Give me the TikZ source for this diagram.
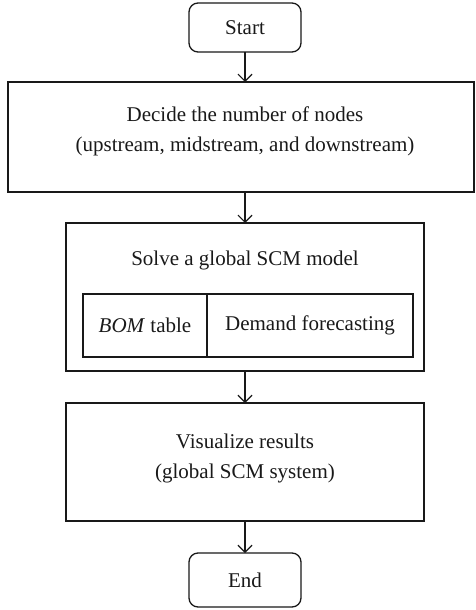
\documentclass[tikz,border=0pt]{standalone}
\usepackage{fontspec}
\setmainfont{Liberation Serif}
\usetikzlibrary{arrows.meta}
\begin{document}
\begin{tikzpicture}[x=1pt,y=-1pt,
  every node/.style={font=\fontsize{21}{30}\selectfont, inner sep=0pt, outer sep=0pt, text=black!90},
  flowbox/.style={draw=black!90, line width=1.3pt, rectangle, align=center},
  termbox/.style={flowbox, rounded corners=9pt},
  arrowline/.style={draw=black!90, line width=1.2pt, -{Straight Barb[length=7pt,width=14pt]}}
]
\useasboundingbox (0,0) rectangle (476,610);

% terminals
\node[termbox, minimum width=112pt, minimum height=49pt] (start) at (245,27.5) {Start};
\node[termbox, minimum width=112pt, minimum height=54pt] (finish) at (245,580) {End};

% step 1
\node[flowbox, minimum width=466pt, minimum height=110pt] (decide) at (241,137) {};
\node (decidetxt) at (245,131) [align=center] {Decide the number of nodes\\ (upstream, midstream, and downstream)};

% step 2 with its two sub-tasks
\node[flowbox, minimum width=358pt, minimum height=148pt] (solve) at (245,297) {};
\node (solvetxt) at (245,260) {Solve a global SCM model};
\node[flowbox, minimum width=124pt, minimum height=63pt] (bom) at (145,325.5) {\textit{BOM} table};
\node[flowbox, minimum width=206pt, minimum height=63pt] (demand) at (310,325.5) {Demand forecasting};

% step 3
\node[flowbox, minimum width=358pt, minimum height=118pt] (visual) at (245,462) {};
\node (visualtxt) at (245,458.5) [align=center] {Visualize results\\ (global SCM system)};

% connectors
\draw[arrowline] (start.south) -- (start.south |- decide.north);
\draw[arrowline] (start.south |- decide.south) -- (solve.north);
\draw[arrowline] (solve.south) -- (visual.north);
\draw[arrowline] (visual.south) -- (finish.north);
\end{tikzpicture}
\end{document}
